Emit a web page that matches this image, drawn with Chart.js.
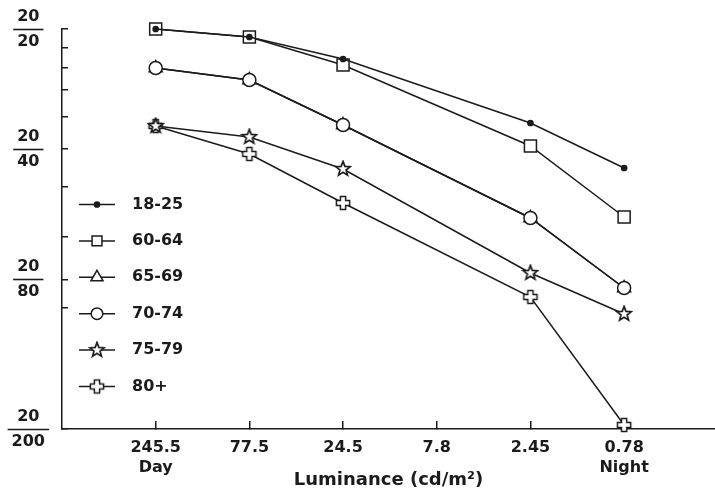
<!DOCTYPE html>
<html><head><meta charset="utf-8">
<script src="https://cdn.jsdelivr.net/npm/chart.js@4/dist/chart.umd.min.js"></script>
<style>html,body{margin:0;padding:0;background:#fff}#wrap{width:715px;height:491px}</style>
</head><body><div id="wrap"><canvas id="c" width="715" height="491"></canvas></div>
<script>
// ---- data (y = position on the acuity axis, 0 = 20/20 ... 1 = 20/200) ----
const xLabels = [['245.5','Day'],['77.5'],['24.5'],['7.8'],['2.45'],['0.78','Night']];
const seriesNames = ['18-25','60-64','65-69','70-74','75-79','80+'];
const s18_25 = [0, 0.02, 0.075, null, 0.235, 0.3475];
const s60_64 = [0, 0.02, 0.09, null, 0.2925, 0.47];
const s65_69 = [0.0975, 0.1275, 0.24, null, 0.4725, 0.6475];
const s70_74 = [0.0975, 0.1275, 0.24, null, 0.4725, 0.6475];
const s75_79 = [0.2425, 0.27, 0.35, null, 0.61, 0.7125];
const s80plus = [0.2425, 0.3125, 0.435, null, 0.67, 0.99];
const yTickValues = [0, 0.046, 0.0975, 0.153, 0.22, 0.3, 0.395, 0.52, 0.626, 0.698, 1.0];
const yLabelValues = [0, 0.3, 0.626, 1.0];
const yLabelNumer = ['20','20','20','20'];
const yLabelDenom = ['20','40','80','200'];
const xTitle = 'Luminance (cd/m\u00B2)';

const INK = '#1b1b1b';
const FONT = '"DejaVu Sans", "Liberation Sans", sans-serif';

function makeStar(){
  const c=document.createElement('canvas'); c.width=c.height=18; const g=c.getContext('2d');
  g.beginPath();
  for(let k=0;k<10;k++){const r=k%2?3.2:7.6; const a=-Math.PI/2+k*Math.PI/5; g.lineTo(9+r*Math.cos(a),9+r*Math.sin(a));}
  g.closePath(); g.fillStyle='#fff'; g.fill(); g.lineWidth=1.7; g.strokeStyle=INK; g.stroke(); return c;
}
function makeCross(){
  const c=document.createElement('canvas'); c.width=c.height=18; const g=c.getContext('2d');
  const a=2.6,b=6.6,o=9;
  g.beginPath();
  g.moveTo(o-a,o-b); g.lineTo(o+a,o-b); g.lineTo(o+a,o-a); g.lineTo(o+b,o-a); g.lineTo(o+b,o+a);
  g.lineTo(o+a,o+a); g.lineTo(o+a,o+b); g.lineTo(o-a,o+b); g.lineTo(o-a,o+a); g.lineTo(o-b,o+a);
  g.lineTo(o-b,o-a); g.lineTo(o-a,o-a); g.closePath();
  g.fillStyle='#fff'; g.fill(); g.lineWidth=1.5; g.strokeStyle=INK; g.stroke(); return c;
}
const star=makeStar(), cross=makeCross();
const seriesValues=[s18_25,s60_64,s65_69,s70_74,s75_79,s80plus];
const markerStyles=[
  {ps:'circle',r:2.6,lr:2.6,bg:INK,ord:0},
  {ps:'rect',r:8.5,lr:7,bg:'#fff',ord:1},
  {ps:'triangle',r:7.5,lr:7,bg:'#fff',ord:3},
  {ps:'circle',r:6.5,lr:5.8,bg:'#fff',ord:2},
  {ps:star,r:8,lr:8,bg:'#fff',ord:4},
  {ps:cross,r:8,lr:8,bg:'#fff',ord:5}
];

const datasets=seriesNames.map((name,i)=>({
  label:name,
  data:seriesValues[i].map((v,j)=>({x:j,y:v})),
  order:markerStyles[i].ord,
  borderColor:INK, borderWidth:1.5,
  pointStyle:markerStyles[i].ps, pointRadius:markerStyles[i].r,
  pointBackgroundColor:markerStyles[i].bg, pointBorderColor:INK, pointBorderWidth:1.5,
  legendRadius:markerStyles[i].lr,
  spanGaps:true, clip:false, tension:0, fill:false
}));

const extras={
  id:'extras',
  afterDraw(chart){
    const ctx=chart.ctx, ys=chart.scales.y, ca=chart.chartArea;
    const f='bold 16px '+FONT;
    ctx.save(); ctx.font=f;
    const widest=Math.max(...yLabelNumer.concat(yLabelDenom).map(t=>ctx.measureText(t).width));
    const cx=ys.right-ys.options.grid.tickLength-ys.options.ticks.padding-widest/2;
    ctx.strokeStyle=INK; ctx.lineWidth=1.6;
    yLabelValues.forEach((v,k)=>{
      const y=Math.round(ys.getPixelForValue(v))+0.5;
      const w=Math.max(ctx.measureText(yLabelNumer[k]).width,ctx.measureText(yLabelDenom[k]).width)+8;
      ctx.beginPath(); ctx.moveTo(cx-w/2,y); ctx.lineTo(cx+w/2,y); ctx.stroke();
    });
    // legend
    const lx=ca.left+17, ly0=ca.top+175.5, step=36.4;
    chart.data.datasets.forEach((ds,i)=>{
      const y=ly0+i*step;
      ctx.strokeStyle=INK; ctx.lineWidth=1.5;
      ctx.beginPath(); ctx.moveTo(lx,y); ctx.lineTo(lx+36,y); ctx.stroke();
      ctx.fillStyle=ds.pointBackgroundColor; ctx.strokeStyle=INK; ctx.lineWidth=1.5;
      Chart.helpers.drawPoint(ctx,{pointStyle:ds.pointStyle,radius:ds.legendRadius,rotation:0,borderWidth:1.5},lx+18,y);
      ctx.fillStyle=INK; ctx.font=f; ctx.textBaseline='middle'; ctx.textAlign='left';
      ctx.fillText(ds.label,lx+53,y);
    });
    ctx.restore();
  }
};

new Chart(document.getElementById('c'),{
  type:'line',
  data:{datasets},
  options:{
    responsive:false, animation:false, devicePixelRatio:1,
    layout:{autoPadding:false,padding:{top:29,left:0,right:0,bottom:0}},
    plugins:{legend:{display:false},tooltip:{enabled:false}},
    scales:{
      x:{
        type:'linear', min:-1, max:5.97,
        afterBuildTicks:s=>{s.ticks=xLabels.map((_,i)=>({value:i}));},
        afterFit:s=>{s.height=62;s.paddingLeft=0;s.paddingRight=0;},
        ticks:{autoSkip:false,maxRotation:0,color:INK,padding:17,
          font:{family:FONT,weight:'bold',size:16,lineHeight:1.25},
          callback:v=>xLabels[v]??''},
        grid:{drawOnChartArea:false,drawTicks:true,tickLength:-8,color:INK,lineWidth:1.5},
        border:{color:INK,width:1.5},
        title:{display:true,text:xTitle,color:INK,padding:{top:0,bottom:0},
          font:{family:FONT,weight:'bold',size:18,lineHeight:1.2}}
      },
      y:{
        type:'linear', reverse:true, min:0, max:1,
        afterBuildTicks:s=>{s.ticks=yTickValues.map(v=>({value:v}));},
        afterFit:s=>{s.width=62;s.paddingTop=0;s.paddingBottom=0;},
        ticks:{autoSkip:false,crossAlign:'center',padding:23,color:INK,
          font:{family:FONT,weight:'bold',size:16,lineHeight:1.5625},
          callback:v=>{const k=yLabelValues.indexOf(v);return k<0?'':[yLabelNumer[k],yLabelDenom[k]];}},
        grid:{drawOnChartArea:false,drawTicks:true,tickLength:-6,color:INK,lineWidth:1.5},
        border:{color:INK,width:1.5}
      }
    }
  },
  plugins:[extras]
});
</script></body></html>
